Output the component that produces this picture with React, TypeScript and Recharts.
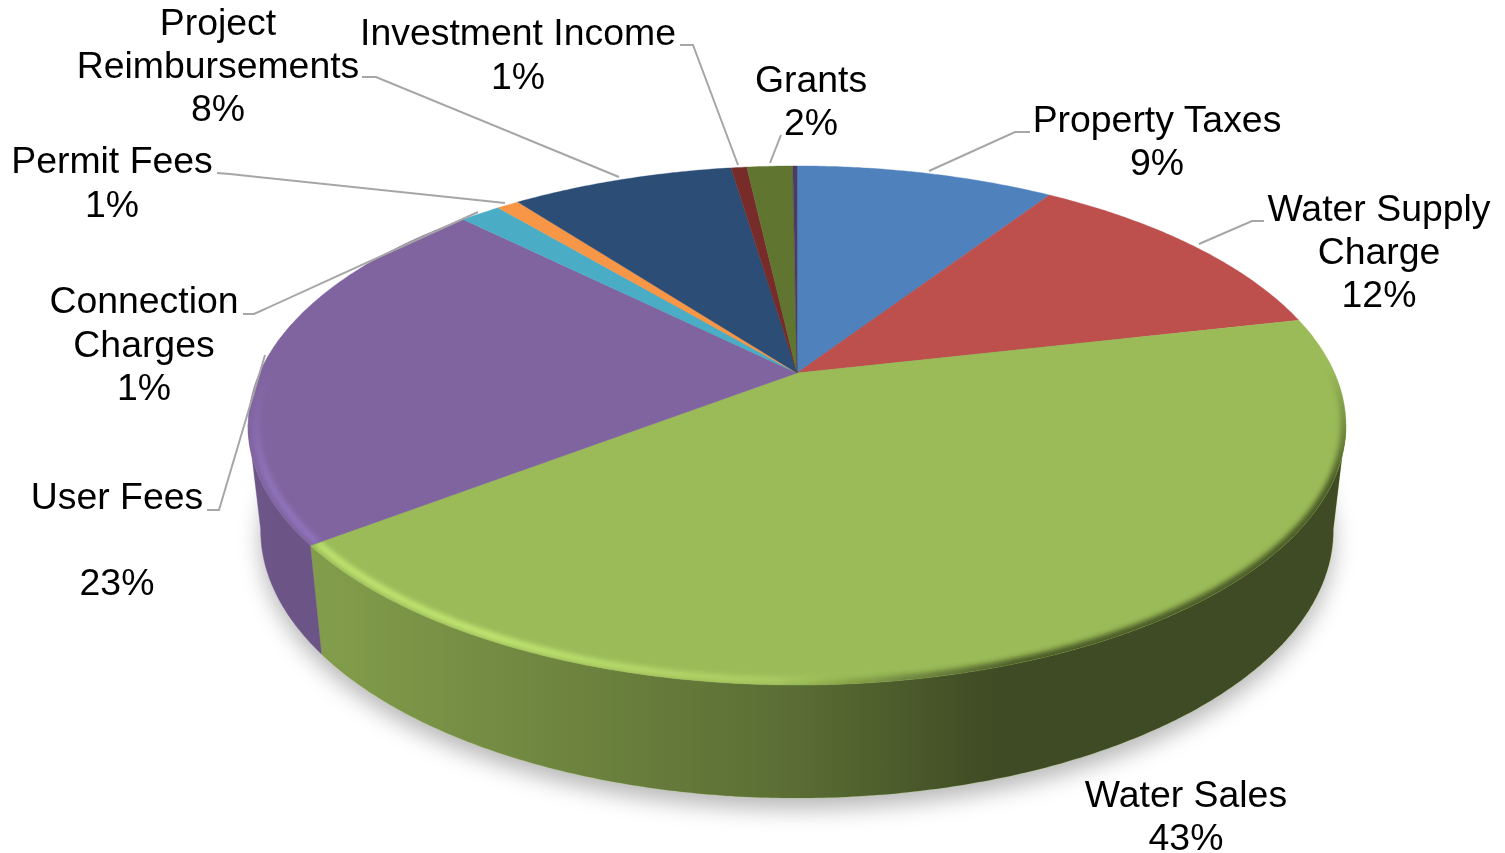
import React from "react";
import { PieChart, Pie } from "recharts";

// Revenue categories, clockwise from twelve o'clock.
const categories = [
  "Property Taxes",
  "Water Supply\nCharge",
  "Water Sales",
  "User Fees\n",
  "Connection\nCharges",
  "Permit Fees",
  "Project\nReimbursements",
  "Investment Income",
  "Grants",
  "Other",
];
const shares = [9.25, 12.2, 43.15, 22.85, 1.45, 0.8, 7.95, 0.56, 1.64, 0.15];
const colors = [
  "#4f81bd", "#bd4f4d", "#9bbb59", "#8064a0", "#4bacc6",
  "#f79646", "#2c4d75", "#772c2a", "#5f7530", "#4d3b62",
];
const glints = [
  "#7aa6dd", "#dd7a78", "#c9ee76", "#9379c4", "#74cbe2",
  "#ffb777", "#4d73a0", "#9c4846", "#7f9a46", "#6b5488",
];
const unlabeled = ["Other"];

const rows = categories.map((name, i) => ({ name, value: shares[i], fill: colors[i], glint: glints[i] }));
const total = shares.reduce((a, b) => a + b, 0);
const wholeDisc = [{ name: "All revenue", value: total }];

// Label placement: centre x, first baseline, leader polyline.
const labelLayout: Record<string, { x: number; y: number; leader?: string }> = {
  "Property Taxes": { x: 1157, y: 132, leader: "1030,132 1015,132 929,171" },
  "Water Supply\nCharge": { x: 1379, y: 221, leader: "1264,221 1252,221 1199,244" },
  "Water Sales": { x: 1186, y: 806.6 },
  "User Fees\n": { x: 117, y: 509, leader: "207,510 219,510 265,355" },
  "Connection\nCharges": { x: 144, y: 313.4, leader: "243,314 254,314 478,212" },
  "Permit Fees": { x: 112, y: 173.4, leader: "217,173 230,174 505,203" },
  "Project\nReimbursements": { x: 218, y: 35, leader: "362,77 376,77 619,177" },
  "Investment Income": { x: 518, y: 45.4, leader: "680,45 693,45 738,165" },
  Grants: { x: 811, y: 92, leader: "781,135 770,163" },
};

const WIDTH = 1505;
const HEIGHT = 853;
const APEX_X = 797;
const APEX_Y = 373;
const RADIUS = 537.6;

// Perspective of the tilted disc: how far the near and far rims sit from the apex.
const TILT = -0.2023;
const DEPTH_SCALE = 248.9;
const WALL_SHRINK = 0.977;
const WALL_FROM = 101.5;
const WALL_TO = 258.5;

// The wall looks taller toward the viewer: 105px at the disc's sides, 113px at the front.
const wallDrop = (y: number) => 105 + ((y - 435) / 250) * 8;

const project = (cx: number, cy: number, r: number, clock: number) => {
  const t = (clock * Math.PI) / 180;
  const x = Math.sin(t);
  const y = -Math.cos(t);
  const w = 1 + TILT * y;
  return [cx + (r * x) / w, cy + (DEPTH_SCALE * (r / RADIUS) * y) / w];
};

const lower = (cx: number, p: number[]) => [cx + (p[0] - cx) * WALL_SHRINK, p[1] + wallDrop(p[1])];

const arc = (cx: number, cy: number, r: number, from: number, to: number) => {
  const pts: number[][] = [];
  const n = Math.max(2, Math.ceil(Math.abs(to - from) / 0.5));
  for (let i = 0; i <= n; i++) pts.push(project(cx, cy, r, from + ((to - from) * i) / n));
  return pts;
};

const toPath = (pts: number[][]) =>
  pts.map((p, i) => `${i ? "L" : "M"}${p[0].toFixed(1)} ${p[1].toFixed(1)}`).join(" ");

// Recharts angles run counter-clockwise from 3 o'clock; the projection uses clock bearings.
const bearings = (p: any) => [90 - p.startAngle, 90 - p.endAngle];

const TopSlice = (props: any) => {
  const { cx, cy, outerRadius: r, fill, index, glint } = props;
  const [a0, a1] = bearings(props);
  const d = `M${cx} ${cy} ${toPath(arc(cx, cy, r, a0, a1)).replace(/^M/, "L")} Z`;
  const darkFrom = Math.max(a0, 86);
  const darkTo = Math.min(a1, 190);
  const lightFrom = Math.max(a0, 165);
  const lightTo = Math.min(a1, 275);
  const clipId = `slice-clip-${index}`;
  const glintId = `slice-glint-${index}`;
  if (darkTo <= darkFrom && lightTo <= lightFrom) {
    return <path d={d} fill={fill} stroke={fill} strokeWidth={0.4} />;
  }
  return (
    <g>
      <path d={d} fill={fill} stroke={fill} strokeWidth={0.4} />
      <clipPath id={clipId}>
        <path d={d} />
      </clipPath>
      <linearGradient id={glintId} gradientUnits="userSpaceOnUse" x1={250} x2={1347} y1={0} y2={0}>
        <stop offset="0" stopColor={glint} stopOpacity={0.75} />
        <stop offset="0.22" stopColor={glint} stopOpacity={0.85} />
        <stop offset="0.5" stopColor={glint} stopOpacity={0.3} />
        <stop offset="0.6" stopColor={glint} stopOpacity={0} />
      </linearGradient>
      <g clipPath={`url(#${clipId})`} mask="url(#rimFade)">
        {lightTo > lightFrom && (
          <path
            d={toPath(arc(cx, cy, r - 8, lightFrom, lightTo))}
            fill="none"
            stroke={`url(#${glintId})`}
            strokeWidth={7}
            filter="url(#rimBlur)"
          />
        )}
        {darkTo > darkFrom && (
          <path
            d={toPath(arc(cx, cy, r, darkFrom, darkTo))}
            fill="none"
            stroke="url(#rimShade)"
            strokeWidth={11}
            filter="url(#rimBlur)"
          />
        )}
      </g>
    </g>
  );
};

const WallSlice = (props: any) => {
  const { cx, cy, outerRadius: r, fill } = props;
  const [a0, a1] = bearings(props);
  const from = Math.max(a0, WALL_FROM);
  const to = Math.min(a1, WALL_TO);
  if (to <= from) return null;
  const top = arc(cx, cy, r, from, to);
  const bottom = top.map((p) => lower(cx, p)).reverse();
  const d = `${toPath([...top, ...bottom])} Z`;
  return (
    <g>
      <path d={d} fill={fill} stroke={fill} strokeWidth={0.4} />
      <path d={d} fill="url(#wallShade)" />
    </g>
  );
};

const DiscShadow = (props: any) => {
  const { cx, cy, outerRadius: r } = props;
  const rim = arc(cx, cy, r, 0, 360).map((p) => lower(cx, p));
  return (
    <path
      d={`${toPath(rim)} Z`}
      fill="#000"
      fillOpacity={0.28}
      filter="url(#discShadow)"
      transform="translate(0 11)"
    />
  );
};

const SliceLabel = (props: any) => {
  const { name, value } = props;
  if (unlabeled.includes(name)) return null;
  const at = labelLayout[name];
  const lines = [...String(name).split("\n"), `${Math.round((value / total) * 100)}%`];
  return (
    <g>
      {at.leader && <polyline points={at.leader} fill="none" stroke="#a6a6a6" strokeWidth={2} />}
      <text
        x={at.x}
        y={at.y}
        textAnchor="middle"
        fontFamily="'Liberation Sans', Arial, sans-serif"
        fontSize={37.4}
        fill="#000"
      >
        {lines.map((line, i) => (
          <tspan key={i} x={at.x} y={at.y + i * 43.2}>
            {line}
          </tspan>
        ))}
      </text>
    </g>
  );
};

const common = {
  dataKey: "value",
  nameKey: "name",
  cx: APEX_X,
  cy: APEX_Y,
  innerRadius: 0,
  outerRadius: RADIUS,
  startAngle: 90,
  endAngle: -270,
  stroke: "none",
  isAnimationActive: false,
  rootTabIndex: -1,
};

export default function App() {
  return (
    <div style={{ position: "absolute", left: 0, top: 0, width: WIDTH, height: HEIGHT, background: "#fff" }}>
      <PieChart width={WIDTH} height={HEIGHT} margin={{ top: 0, right: 0, bottom: 0, left: 0 }}>
        <defs>
          <filter id="discShadow" x="-10%" y="-10%" width="120%" height="130%">
            <feGaussianBlur stdDeviation="11" />
          </filter>
          <filter id="rimBlur" x="-10%" y="-10%" width="120%" height="120%">
            <feGaussianBlur stdDeviation="2.8" />
          </filter>
          <linearGradient id="wallShade" gradientUnits="userSpaceOnUse" x1={250} x2={1347} y1={0} y2={0}>
            <stop offset="0" stopColor="#000" stopOpacity={0.15} />
            <stop offset="0.08" stopColor="#000" stopOpacity={0.17} />
            <stop offset="0.5" stopColor="#000" stopOpacity={0.42} />
            <stop offset="0.68" stopColor="#000" stopOpacity={0.6} />
            <stop offset="1" stopColor="#000" stopOpacity={0.6} />
          </linearGradient>
          <linearGradient id="rimShade" gradientUnits="userSpaceOnUse" x1={250} x2={1347} y1={0} y2={0}>
            <stop offset="0.48" stopColor="#2b3514" stopOpacity={0} />
            <stop offset="0.7" stopColor="#2b3514" stopOpacity={0.7} />
            <stop offset="1" stopColor="#2b3514" stopOpacity={0.7} />
          </linearGradient>
          <linearGradient id="rimFadeRamp" gradientUnits="userSpaceOnUse" x1={0} x2={0} y1={370} y2={480}>
            <stop offset="0" stopColor="#000" />
            <stop offset="1" stopColor="#fff" />
          </linearGradient>
          <mask id="rimFade" maskUnits="userSpaceOnUse" x={0} y={0} width={WIDTH} height={HEIGHT}>
            <rect x={0} y={0} width={WIDTH} height={HEIGHT} fill="url(#rimFadeRamp)" />
          </mask>
        </defs>
        <Pie {...common} data={wholeDisc} shape={DiscShadow} />
        <Pie {...common} data={rows} shape={WallSlice} />
        <Pie {...common} data={rows} shape={TopSlice} label={SliceLabel} labelLine={false} />
      </PieChart>
    </div>
  );
}
